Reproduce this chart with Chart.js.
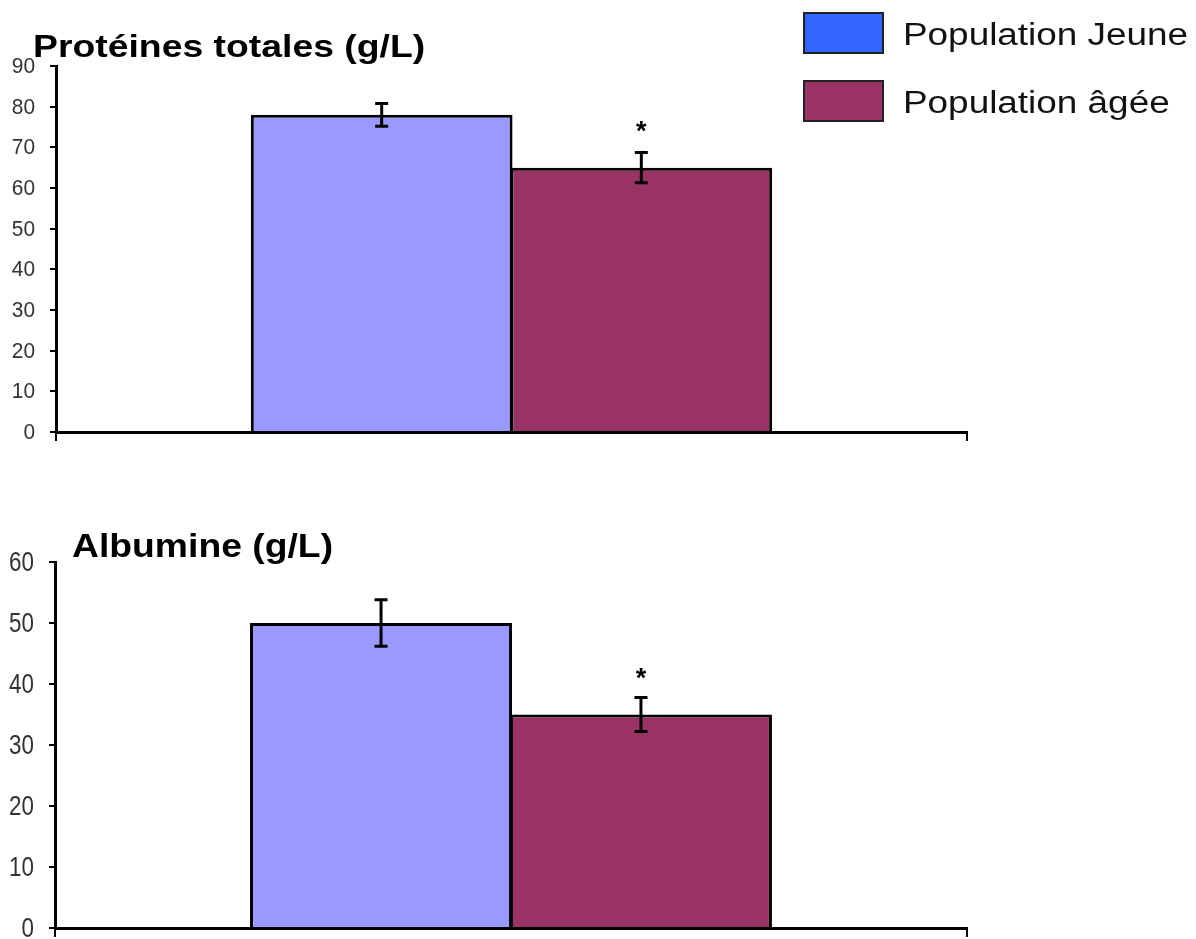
<!DOCTYPE html>
<html lang="fr">
<head>
<meta charset="utf-8">
<title>Protéines totales et albumine</title>
<script src="https://cdn.jsdelivr.net/npm/chart.js@4.4.1/dist/chart.umd.min.js"></script>
<style>
  html, body { margin: 0; padding: 0; background: #fff; }
  .page { position: relative; width: 1196px; height: 939px; overflow: hidden; background: #fff; }
  .page canvas { position: absolute; left: 0; }
  .chart-title {
    position: absolute; margin: 0; line-height: 1; white-space: nowrap;
    font-family: 'Liberation Sans', Arial, sans-serif; font-weight: bold; color: #000;
    transform-origin: left top;
  }
  .legend-box { position: absolute; width: 77px; height: 38px; border: 2px solid #222; }
  .legend-text {
    position: absolute; line-height: 1; white-space: nowrap;
    font-family: 'Liberation Sans', Arial, sans-serif; font-size: 31px; color: #111;
    transform-origin: left top; transform: scaleX(1.19);
  }
</style>
</head>
<body>
<div class="page">
  <canvas id="chartProteines" width="1000" height="460" style="top:0"></canvas>
  <canvas id="chartAlbumine" width="1000" height="500" style="top:470px"></canvas>

  <div class="chart-title" style="left:33px; top:30px; font-size:32px; transform:scaleX(1.167)">Protéines totales (g/L)</div>
  <div class="chart-title" style="left:72px; top:528px; font-size:34px; transform:scaleX(1.097)">Albumine (g/L)</div>

  <div class="legend-box" style="left:803px; top:12px; background:#3366FF"></div>
  <div class="legend-text" style="left:903px; top:19px">Population Jeune</div>
  <div class="legend-box" style="left:803px; top:80px; background:#993366"></div>
  <div class="legend-text" style="left:903px; top:87px">Population âgée</div>
</div>

<script>
'use strict';

/* ---- data ---- */
const seriesNames   = ['Population Jeune', 'Population âgée'];
const categories    = [''];

const proteinesMean = [78, 65];
const proteinesErr  = [2.8, 3.7];
const proteinesStar = [false, true];
const proteinesTicks = [0, 10, 20, 30, 40, 50, 60, 70, 80, 90];

const albumineMean  = [50, 35];
const albumineErr   = [3.8, 2.8];
const albumineStar  = [false, true];
const albumineTicks = [0, 10, 20, 30, 40, 50, 60];

const barColors = ['#9999FF', '#993366'];

/* ---- error bars + significance stars ---- */
const ErrorBars = {
  id: 'errorBars',
  afterDatasetsDraw(chart, args, opts) {
    const ctx = chart.ctx;
    const y = chart.scales.y;
    ctx.save();
    chart.data.datasets.forEach((ds, i) => {
      const bar = chart.getDatasetMeta(i).data[0];
      const v = ds.data[0];
      const e = opts.errors[i];
      const top = y.getPixelForValue(v + e);
      const bot = y.getPixelForValue(v - e);
      ctx.strokeStyle = '#000';
      ctx.lineWidth = 3;
      ctx.beginPath();
      ctx.moveTo(bar.x, top); ctx.lineTo(bar.x, bot);
      ctx.moveTo(bar.x - 6.5, top); ctx.lineTo(bar.x + 6.5, top);
      ctx.moveTo(bar.x - 6.5, bot); ctx.lineTo(bar.x + 6.5, bot);
      ctx.stroke();

      if (opts.stars[i]) {
        ctx.fillStyle = '#000';
        ctx.font = 'bold 27px "Liberation Sans", Arial, sans-serif';
        ctx.textAlign = 'center';
        ctx.textBaseline = 'alphabetic';
        ctx.fillText('*', bar.x, top - opts.starGap + 14);
      }
    });
    ctx.restore();
  }
};

/* ---- y tick labels, drawn so they can be squeezed horizontally ---- */
const TickLabels = {
  id: 'tickLabels',
  afterDraw(chart, args, opts) {
    const ctx = chart.ctx;
    const y = chart.scales.y;
    const x = y.right - 6 - opts.padding;
    ctx.save();
    ctx.fillStyle = '#333';
    ctx.font = opts.size + 'px "Liberation Sans", Arial, sans-serif';
    ctx.textAlign = 'right';
    ctx.textBaseline = 'middle';
    opts.values.forEach(v => {
      ctx.save();
      ctx.translate(x, y.getPixelForValue(v) + 1);
      ctx.scale(opts.squeeze, 1);
      ctx.fillText(String(v), 0, 0);
      ctx.restore();
    });
    ctx.restore();
  }
};

function makeChart(canvasId, means, errors, stars, ticks, cfg) {
  const canvas = document.getElementById(canvasId);
  return new Chart(canvas, {
    type: 'bar',
    data: {
      labels: categories,
      datasets: seriesNames.map((name, i) => ({
        label: name,
        data: [means[i]],
        backgroundColor: barColors[i],
        borderColor: '#000',
        borderWidth: 3,
        borderSkipped: 'bottom',
        categoryPercentage: 0.57,
        barPercentage: 1.008
      }))
    },
    options: {
      responsive: false,
      animation: false,
      devicePixelRatio: 1,
      layout: { padding: cfg.padding },
      plugins: {
        legend: { display: false },
        tooltip: { enabled: false },
        title: { display: false },
        errorBars: { errors, stars, starGap: cfg.starGap },
        tickLabels: { values: ticks, size: cfg.tickSize, squeeze: cfg.squeeze, padding: 15 }
      },
      scales: {
        x: {
          ticks: { display: false },
          grid: { display: true, drawOnChartArea: false, drawTicks: true, tickLength: 9, color: '#000', lineWidth: 2, offset: true },
          border: { display: true, color: '#000', width: 3 },
          afterFit(scale) { scale.height = cfg.xHeight; }
        },
        y: {
          min: ticks[0],
          max: ticks[ticks.length - 1],
          afterBuildTicks(scale) { scale.ticks = ticks.map(v => ({ value: v })); },
          ticks: { display: false },
          grid: { display: true, drawOnChartArea: false, drawTicks: true, tickLength: 6, color: '#000', lineWidth: 2 },
          border: { display: true, color: '#000', width: 3 },
          afterFit(scale) { scale.width = cfg.yWidth; }
        }
      }
    },
    plugins: [ErrorBars, TickLabels]
  });
}

makeChart('chartProteines', proteinesMean, proteinesErr, proteinesStar, proteinesTicks, {
  padding: { left: 0, right: 33, top: 66, bottom: 18 },
  xHeight: 10,
  yWidth: 56,
  starGap: 27,
  tickSize: 22,
  squeeze: 0.95
});

makeChart('chartAlbumine', albumineMean, albumineErr, albumineStar, albumineTicks, {
  padding: { left: 0, right: 33, top: 92, bottom: 33 },
  xHeight: 9,
  yWidth: 55,
  starGap: 24,
  tickSize: 28,
  squeeze: 0.8
});
</script>
</body>
</html>
